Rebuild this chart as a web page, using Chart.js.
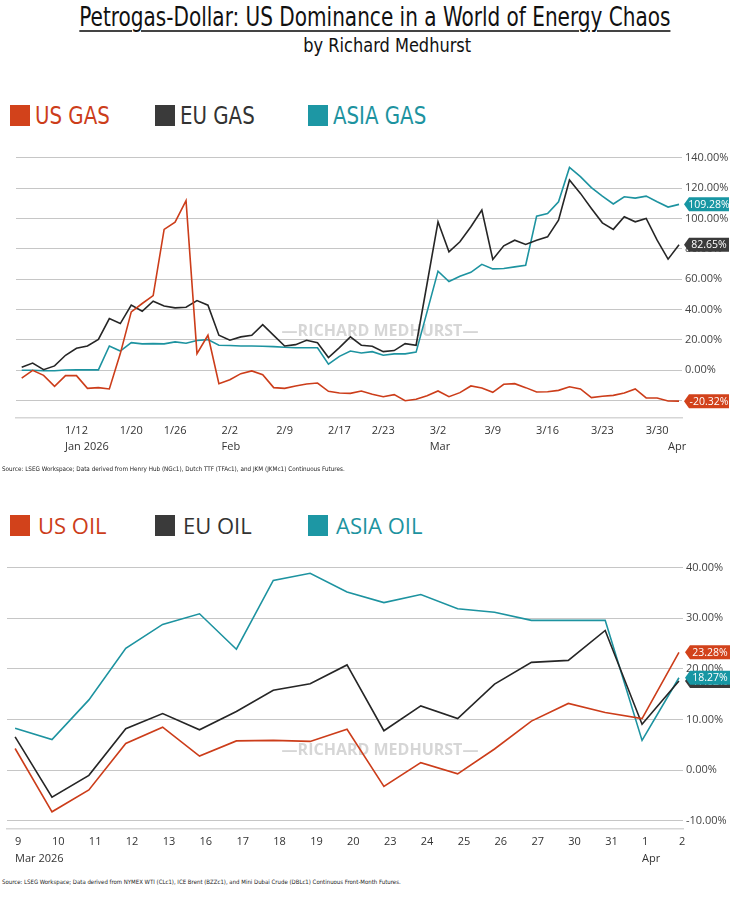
<!DOCTYPE html>
<html>
<head>
<meta charset="utf-8">
<script src="https://cdn.jsdelivr.net/npm/chart.js@4.4.1/dist/chart.umd.min.js"></script>
<style>
body{margin:0;background:#fff;width:750px;height:902px;position:relative;overflow:hidden;font-family:'Open Sans',sans-serif;}
#title{position:absolute;top:1px;left:0;width:750px;text-align:center;font-family:'Liberation Sans Narrow','DejaVu Sans Condensed',sans-serif;font-size:26px;color:#111;line-height:32px;}
#title span{display:inline-block;transform:scaleX(0.857);transform-origin:center;text-decoration:underline;text-decoration-thickness:1.5px;text-underline-offset:4px;text-decoration-color:#444;}
#sub{position:absolute;top:33px;left:12px;width:750px;text-align:center;font-family:'Liberation Sans Narrow','DejaVu Sans Condensed',sans-serif;font-size:20px;color:#111;}
#sub span{display:inline-block;transform:scaleX(0.9);transform-origin:center;}
.legend{position:absolute;left:0;width:750px;height:24px;}
.item{position:absolute;top:0;height:24px;display:flex;align-items:center;}
.sw{width:20px;height:21px;margin-right:5px;}
.gas .item span{display:inline-block;font-family:'Liberation Sans Narrow','DejaVu Sans Condensed',sans-serif;font-size:25px;transform:scaleX(0.88);transform-origin:left;}
.oil .item span{font-family:'Open Sans',sans-serif;font-size:22px;}
.oil .sw{margin-right:8px;}
.src{position:absolute;left:2px;font-family:'Liberation Sans Narrow','DejaVu Sans Condensed',sans-serif;font-size:6.3px;color:#222;white-space:nowrap;}
.box{position:absolute;left:0;width:750px;}
</style>
</head>
<body>
<div id="title"><span>Petrogas-Dollar: US Dominance in a World of Energy Chaos</span></div>
<div id="sub"><span>by Richard Medhurst</span></div>

<div class="legend gas" style="top:103px">
  <div class="item" style="left:10px"><div class="sw" style="background:#d2421b"></div><span style="color:#cc3d1a">US GAS</span></div>
  <div class="item" style="left:155px"><div class="sw" style="background:#3a3a3a"></div><span style="color:#333">EU GAS</span></div>
  <div class="item" style="left:308px"><div class="sw" style="background:#1d97a4"></div><span style="color:#1d93a0">ASIA GAS</span></div>
</div>
<div class="box" style="top:140px;height:330px"><canvas id="gas"></canvas></div>
<div class="src" style="top:465px">Source: LSEG Workspace; Data derived from Henry Hub (NGc1), Dutch TTF (TFAc1), and JKM (JKMc1) Continuous Futures.</div>

<div class="legend oil" style="top:513px">
  <div class="item" style="left:10px"><div class="sw" style="background:#d2421b"></div><span style="color:#cc3d1a">US OIL</span></div>
  <div class="item" style="left:155px"><div class="sw" style="background:#3a3a3a"></div><span style="color:#333">EU OIL</span></div>
  <div class="item" style="left:308px"><div class="sw" style="background:#1d97a4"></div><span style="color:#1d93a0">ASIA OIL</span></div>
</div>
<div class="box" style="top:550px;height:320px"><canvas id="oil"></canvas></div>
<div class="src" style="top:878px;font-size:6px">Source: LSEG Workspace; Data derived from NYMEX WTI (CLc1), ICE Brent (BZZc1), and Mini Dubai Crude (DBLc1) Continuous Front-Month Futures.</div>

<script>
// gas: % change, trading days Jan 5 - Apr 1 2026
const gasDates = ['1/5','1/6','1/7','1/8','1/9','1/12','1/13','1/14','1/15','1/16',
  '1/20','1/21','1/22','1/23','1/26','1/27','1/28','1/29','1/30',
  '2/2','2/3','2/4','2/5','2/6','2/9','2/10','2/11','2/12','2/13',
  '2/17','2/18','2/19','2/20','2/23','2/24','2/25','2/26','2/27',
  '3/2','3/3','3/4','3/5','3/6','3/9','3/10','3/11','3/12','3/13',
  '3/16','3/17','3/18','3/19','3/20','3/23','3/24','3/25','3/26','3/27',
  '3/30','3/31','4/1']
const usGas = [-5.1,0.0,-3.3,-10.5,-3.5,-3.5,-11.9,-11.4,-12.3,11.0,
  38.5,44.0,49.2,92.8,97.6,111.7,11.0,23.1,-8.8,
  -6.2,-2.2,-0.4,-2.9,-11.4,-11.9,-10.3,-9.0,-8.4,-13.8,
  -14.9,-15.2,-13.6,-15.8,-17.4,-16.0,-20.0,-19.1,-16.7,
  -13.6,-17.4,-14.7,-10.3,-11.6,-14.5,-9.2,-8.8,-11.4,-14.3,
  -14.1,-13.2,-10.8,-12.3,-18.0,-17.1,-16.5,-14.9,-12.3,-18.2,
  -18.2,-20.2,-20.32]
const euGas = [2.0,4.8,0.4,2.9,9.9,14.5,16.0,20.4,34.1,30.8,
  42.9,38.9,45.5,42.4,41.1,41.5,45.9,42.9,23.1,
  19.8,22.0,23.1,30.1,23.0,16.0,16.9,19.8,18.2,8.4,
  14.9,22.0,16.5,15.8,12.3,13.0,17.6,16.5,57.0,
  97.8,78.0,84.6,94.5,105.5,73.0,82.0,85.7,82.9,85.7,
  87.9,98.9,125.3,116.5,106.6,97.1,92.8,101.1,97.8,100.0,
  85.7,73.2,82.65]
const asiaGas = [0.0,0.0,-0.3,-0.3,0.2,0.3,0.3,0.3,16.0,12.7,
  18.2,17.4,17.6,17.4,18.7,17.8,19.6,20.2,16.5,
  16.3,16.0,16.0,15.8,15.6,15.2,14.9,14.9,14.9,4.0,
  9.2,12.7,11.4,12.3,9.9,10.8,10.8,12.0,38.5,
  65.3,58.5,62.0,64.5,69.8,66.8,67.0,68.1,69.2,101.5,
  103.3,111.0,133.6,127.5,120.3,114.7,109.5,114.3,113.4,114.7,
  111.0,107.5,109.28]
const gasTickDates = ['1/12','1/20','1/26','2/2','2/9','2/17','2/23','3/2','3/9','3/16','3/23','3/30']
const gasMonths = [['1/12','Jan 2026'],['2/2','Feb'],['3/2','Mar'],['4/1','Apr']]
const gasYTicks = [-20,0,20,40,60,80,100,120,140]

// oil: % change, Mar 9 - Apr 2 2026
const oilDays = ['9','10','11','12','13','16','17','18','19','20','23','24','25','26','27','30','31','1','2']
const usOil = [4.3,-8.2,-3.9,5.3,8.5,2.8,5.8,5.9,5.7,8.1,-3.2,1.5,-0.7,4.2,9.7,13.2,11.4,10.2,23.28]
const euOil = [6.6,-5.3,-1.0,8.2,11.2,8.0,11.6,15.8,17.1,20.8,7.8,12.7,10.2,17.0,21.3,21.7,27.6,9.1,17.62]
const asiaOil = [8.3,6.05,13.9,24.1,28.8,30.9,23.9,37.5,38.9,35.2,33.1,34.7,31.9,31.2,29.6,29.6,29.6,5.9,18.27]
const oilMonths = {'9':'Mar 2026','1':'Apr'}
const oilYTicks = [-10,0,10,20,30,40]

const RED = '#cc3d1a', DARK = '#262626', TEAL = '#1d93a0'
const tickFont = {family:'Open Sans', size:11, lineHeight:1.5}

function xy(arr){ return arr.map((v,i)=>({x:i,y:v})) }

function line(label, arr, color){
  return {label:label, data:xy(arr), borderColor:color, backgroundColor:color,
    borderWidth:1.6, pointRadius:0, tension:0}
}

const watermark = {
  id:'watermark',
  beforeDatasetsDraw(chart){
    const ctx = chart.ctx
    ctx.save()
    ctx.font = 'bold 16px "Open Sans"'
    ctx.fillStyle = '#d6d6d6'
    ctx.textAlign = 'center'
    ctx.textBaseline = 'middle'
    ctx.fillText('\u2014RICHARD MEDHURST\u2014', 380, chart.options.plugins.wmY)
    ctx.restore()
  }
}

const badges = {
  id:'badges',
  afterDatasetsDraw(chart){
    const ctx = chart.ctx, y = chart.scales.y, right = chart.chartArea.right
    chart.data.datasets.forEach(ds => {
      const v = ds.data[ds.data.length-1].y
      const py = y.getPixelForValue(v)
      const x0 = right + 2, h = 14, w = 40
      ctx.save()
      ctx.fillStyle = ds.badgeColor
      ctx.beginPath()
      ctx.moveTo(x0, py)
      ctx.lineTo(x0+5, py-h/2)
      ctx.lineTo(x0+5+w, py-h/2)
      ctx.lineTo(x0+5+w, py+h/2)
      ctx.lineTo(x0+5, py+h/2)
      ctx.closePath()
      ctx.fill()
      ctx.fillStyle = '#fff'
      ctx.font = '10.5px "Open Sans"'
      ctx.textAlign = 'center'
      ctx.textBaseline = 'middle'
      ctx.fillText(v.toFixed(2)+'%', x0+5+w/2, py+0.5)
      ctx.restore()
    })
  }
}

const gasMonthLabels = {
  id:'gasMonthLabels',
  afterDraw(chart){
    const ctx = chart.ctx, x = chart.scales.x
    ctx.save()
    ctx.font = '11px "Open Sans"'
    ctx.fillStyle = '#333'
    ctx.textBaseline = 'middle'
    gasMonths.forEach(m => {
      const px = x.getPixelForValue(gasDates.indexOf(m[0]))
      if (gasTickDates.includes(m[0])) {
        ctx.textAlign = 'left'
        ctx.fillText(m[1], px - ctx.measureText(m[0]).width/2, chart.chartArea.bottom + 29)
      } else {
        ctx.textAlign = 'center'
        ctx.fillText(m[1], px - 2, chart.chartArea.bottom + 29)
      }
    })
    ctx.restore()
  }
}

const gasChart = new Chart(document.getElementById('gas'), {
  type:'line',
  data:{datasets:[
    Object.assign(line('US GAS', usGas, RED), {badgeColor:'#d2421b'}),
    Object.assign(line('EU GAS', euGas, DARK), {badgeColor:'#3a3a3a'}),
    Object.assign(line('ASIA GAS', asiaGas, TEAL), {badgeColor:'#1796a3'})
  ]},
  options:{
    responsive:true, maintainAspectRatio:false, animation:false,
    layout:{padding:{left:16, top:17.7, right:0, bottom:0}},
    plugins:{legend:{display:false}, tooltip:{enabled:false}, wmY:191},
    scales:{
      x:{type:'linear', min:-0.52, max:60.27,
        grid:{display:true, drawOnChartArea:false, drawTicks:false},
        border:{display:true, color:'#d6d6d6', width:1.5},
        afterBuildTicks: s => { s.ticks = gasTickDates.map(d => ({value:gasDates.indexOf(d)})) },
        ticks:{autoSkip:false, maxRotation:0, padding:5, color:'#333', font:tickFont,
          callback: v => gasDates[v]},
        afterFit: s => { s.height = 52 }
      },
      y:{position:'right', min:-31.4, max:140,
        afterBuildTicks: s => { s.ticks = gasYTicks.map(v => ({value:v})) },
        grid:{color:'#c6c6c6', lineWidth:1, drawTicks:false},
        border:{display:false},
        ticks:{padding:3, color:'#444', font:{family:'Open Sans', size:11}, callback: v => v.toFixed(2)+'%'},
        afterFit: s => { s.width = 68 }
      }
    }
  },
  plugins:[watermark, badges, gasMonthLabels]
})

const oilChart = new Chart(document.getElementById('oil'), {
  type:'line',
  data:{datasets:[
    Object.assign(line('US OIL', usOil, RED), {badgeColor:'#d2421b'}),
    Object.assign(line('EU OIL', euOil, DARK), {badgeColor:'#3a3a3a'}),
    Object.assign(line('ASIA OIL', asiaOil, TEAL), {badgeColor:'#1796a3'})
  ]},
  options:{
    responsive:true, maintainAspectRatio:false, animation:false,
    layout:{padding:{left:7, top:17.7, right:0, bottom:0}},
    plugins:{legend:{display:false}, tooltip:{enabled:false}, wmY:200},
    scales:{
      x:{type:'linear', min:-0.22, max:18.11,
        grid:{display:true, drawOnChartArea:false, drawTicks:false},
        border:{display:true, color:'#d6d6d6', width:1.5},
        afterBuildTicks: s => { s.ticks = oilDays.map((d,i) => ({value:i})) },
        ticks:{autoSkip:false, maxRotation:0, padding:5, align:'start', color:'#333', font:tickFont,
          callback: v => oilMonths[oilDays[v]] ? [oilDays[v], oilMonths[oilDays[v]]] : oilDays[v]},
        afterFit: s => { s.height = 41 }
      },
      y:{position:'right', min:-11.6, max:40,
        afterBuildTicks: s => { s.ticks = oilYTicks.map(v => ({value:v})) },
        grid:{color:'#c6c6c6', lineWidth:1, drawTicks:false},
        border:{display:false},
        ticks:{padding:3, color:'#444', font:{family:'Open Sans', size:11}, callback: v => v.toFixed(2)+'%'},
        afterFit: s => { s.width = 67 }
      }
    }
  },
  plugins:[watermark, badges]
})
</script>
</body>
</html>
